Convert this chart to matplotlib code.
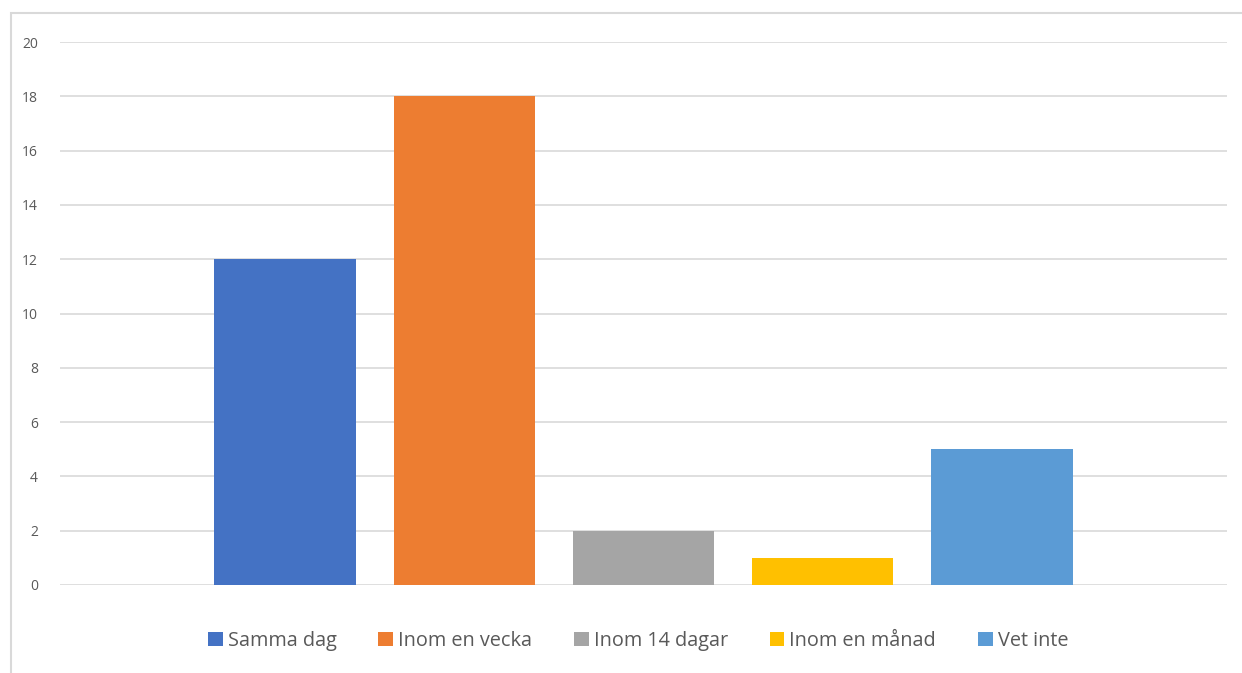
import matplotlib
matplotlib.use("Agg")
import matplotlib.pyplot as plt
from matplotlib.patches import Rectangle, Patch

categories = ["Samma dag", "Inom en vecka", "Inom 14 dagar", "Inom en månad", "Vet inte"]
values = [12, 18, 2, 1, 5]
colors = ["#4472C4", "#ED7D31", "#A5A5A5", "#FFC000", "#5B9BD5"]
yticks = [0, 2, 4, 6, 8, 10, 12, 14, 16, 18, 20]

plt.rcParams['font.family'] = ['Open Sans', 'DejaVu Sans']

W, H = 1242, 673
fig = plt.figure(figsize=(W/100, H/100), dpi=100)
fig.patches.append(Rectangle((11/W, -0.1), 1.2, 1 - 13/H + 0.1, transform=fig.transFigure,
                             fill=False, edgecolor="#D9D9D9", linewidth=1.5, zorder=0))

ax = fig.add_axes([60/W, 1 - 585/H, (1227 - 60)/W, (585 - 42)/H])
for i, (c, v, col) in enumerate(zip(categories, values, colors)):
    ax.bar(i, v, width=0.79, color=col, label=c, zorder=3)

ax.set_xlim(-1.257, 5.257)
ax.set_ylim(0, 20)
ax.set_yticks(yticks)
ax.set_xticks([])
ax.grid(axis='y', color="#D9D9D9", linewidth=1.2, zorder=0)
for s in ax.spines.values():
    s.set_visible(False)
ax.tick_params(axis='y', length=0, pad=16, labelsize=10, labelcolor="#595959")

handles = [Patch(facecolor=col, edgecolor='none') for col in colors]
fig.legend(handles, categories, loc='center', bbox_to_anchor=(638/W, 1 - 641/H), ncol=5,
           frameon=False, fontsize=14.3, labelcolor="#595959", handlelength=0.75, handleheight=0.75,
           handletextpad=0.25, columnspacing=2.1)

fig.savefig("out.png", dpi=100)
